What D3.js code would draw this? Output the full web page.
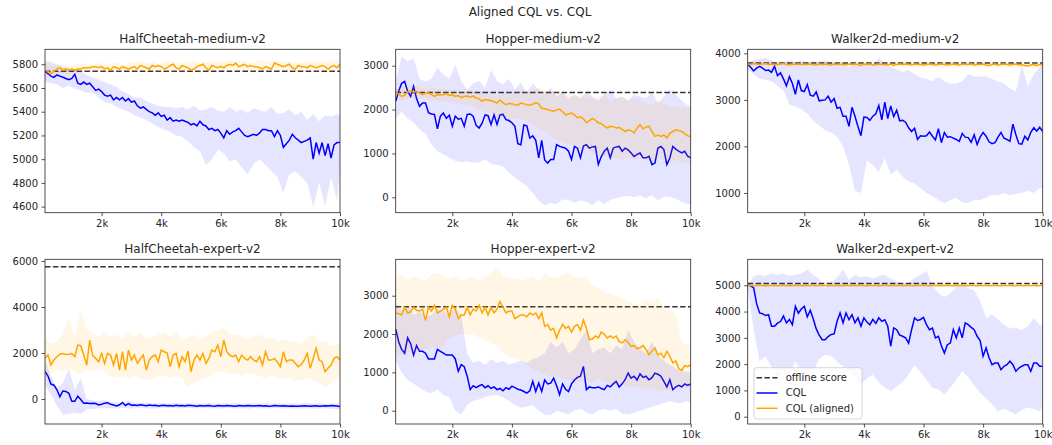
<!DOCTYPE html>
<html lang="en">
<head>
<meta charset="utf-8">
<script src="https://d3js.org/d3.v7.min.js"></script>
<style>
  body { margin: 0; background: #fff; }
  svg { font-family: "DejaVu Sans", sans-serif; }
</style>
</head>
<body>
<div id="chart"></div>
<script>
// training steps (x) for the means, and the coarser grid used for the shaded bands
var steps = d3.range(100, 10001, 100);
var bandSteps = d3.range(100, 10000, 200).concat([10000]);

var xTicks = [2000, 4000, 6000, 8000, 10000];
var xTickLabels = ["2k", "4k", "6k", "8k", "10k"];

var titles = ["HalfCheetah-medium-v2", "Hopper-medium-v2", "Walker2d-medium-v2",
              "HalfCheetah-expert-v2", "Hopper-expert-v2", "Walker2d-expert-v2"];
var offlineScores = [5740, 2390, 3790, 5750, 2710, 5070];
var yTicks = [
  [4600, 4800, 5000, 5200, 5400, 5600, 5800],
  [0, 1000, 2000, 3000],
  [1000, 2000, 3000, 4000],
  [0, 2000, 4000, 6000],
  [0, 1000, 2000, 3000],
  [0, 1000, 2000, 3000, 4000, 5000]
];
var yLimits = [[4549, 5926], [-351, 3374], [577, 4086], [-1087, 6074], [-347, 3950], [-278, 5989]];
var legendLabels = ["offline score", "CQL", "CQL (aligned)"];

// ---- HalfCheetah-medium ----
var hcMedCql = [
  5740, 5720, 5700, 5690, 5710, 5700, 5690, 5680, 5670, 5680,
  5715, 5640, 5630, 5650, 5630, 5640, 5610, 5580, 5590, 5570,
  5540, 5530, 5540, 5500, 5520, 5500, 5520, 5490, 5510, 5480,
  5490, 5450, 5430, 5440, 5420, 5400, 5390, 5370, 5390, 5360,
  5370, 5330, 5350, 5320, 5330, 5320, 5330, 5320, 5310, 5290,
  5300, 5280, 5320, 5290, 5280, 5250, 5260, 5240, 5250, 5220,
  5180, 5240, 5210, 5230, 5240, 5260, 5230, 5200, 5190, 5200,
  5210, 5200, 5220, 5250, 5250, 5240, 5240, 5190, 5240, 5200,
  5100, 5130, 5160, 5210, 5180, 5160, 5140, 5150, 5160, 5180,
  5000, 5140, 5050, 5140, 5030, 5130, 5010, 5120, 5140, 5140];
var hcMedCqlHi = [
  5830, 5820, 5800, 5780, 5770, 5760, 5740, 5710, 5690, 5670,
  5650, 5630, 5610, 5570, 5550, 5520, 5520, 5490, 5470, 5450,
  5440, 5440, 5430, 5440, 5420, 5450, 5410, 5420, 5440, 5410,
  5400, 5440, 5400, 5420, 5390, 5430, 5410, 5400, 5440, 5380,
  5390, 5420, 5370, 5400, 5330, 5380, 5320, 5370, 5360, 5380, 5370];
var hcMedCqlLo = [
  5650, 5640, 5630, 5600, 5620, 5590, 5580, 5560, 5560, 5520,
  5480, 5470, 5440, 5420, 5400, 5370, 5350, 5330, 5300, 5270,
  5250, 5230, 5200, 5190, 5150, 5100, 5070, 4950, 5000, 5080,
  5050, 4980, 5000, 4930, 4870, 4960, 5000, 4950, 4900, 4850,
  4720, 4870, 4900, 4850, 4800, 4600, 4800, 4600, 4850, 4650, 4900];
var hcMedAligned = [
  5750, 5740, 5720, 5740, 5760, 5770, 5750, 5760, 5750, 5760,
  5750, 5760, 5760, 5770, 5770, 5770, 5780, 5780, 5770, 5780,
  5760, 5770, 5750, 5780, 5770, 5760, 5780, 5770, 5760, 5770,
  5780, 5760, 5790, 5780, 5770, 5760, 5790, 5780, 5790, 5780,
  5760, 5770, 5790, 5800, 5770, 5760, 5790, 5780, 5770, 5750,
  5760, 5780, 5790, 5800, 5770, 5750, 5790, 5780, 5770, 5780,
  5770, 5790, 5800, 5790, 5810, 5780, 5790, 5800, 5780, 5790,
  5780, 5780, 5770, 5760, 5780, 5770, 5760, 5810, 5800, 5790,
  5780, 5790, 5800, 5770, 5760, 5790, 5780, 5780, 5770, 5790,
  5780, 5770, 5780, 5790, 5780, 5760, 5780, 5790, 5770, 5800];
var hcMedAlignedHi = [
  5800, 5780, 5790, 5800, 5790, 5800, 5800, 5810, 5800, 5810,
  5800, 5810, 5810, 5800, 5810, 5820, 5830, 5810, 5820, 5800,
  5820, 5830, 5820, 5810, 5820, 5830, 5810, 5820, 5820, 5830,
  5830, 5840, 5820, 5830, 5820, 5810, 5840, 5830, 5820, 5830,
  5820, 5830, 5820, 5810, 5830, 5820, 5830, 5820, 5830, 5840, 5830];
var hcMedAlignedLo = [
  5700, 5690, 5710, 5720, 5710, 5720, 5730, 5740, 5730, 5740,
  5730, 5740, 5730, 5740, 5740, 5730, 5750, 5740, 5750, 5730,
  5740, 5730, 5740, 5730, 5740, 5750, 5730, 5740, 5740, 5750,
  5750, 5760, 5740, 5740, 5750, 5730, 5740, 5750, 5740, 5750,
  5740, 5750, 5730, 5740, 5750, 5730, 5740, 5750, 5730, 5750, 5760];

// ---- Hopper-medium ----
var hopMedCql = [
  2190, 2420, 2600, 2640, 2420, 2300, 2530, 2250, 2074, 2150,
  2150, 1930, 1900, 1890, 1560, 1850, 1920, 1800, 1870, 1620,
  1850, 1780, 1800, 1620, 1890, 1900, 1850, 1640, 1580, 1690,
  1880, 1860, 1660, 1880, 1660, 1880, 1890, 1770, 1750, 1700,
  1620, 1220, 1200, 1650, 1630, 1350, 1400, 1300, 900, 1300,
  850, 780, 860, 860, 1200, 1160, 1140, 1120, 1050, 860,
  1160, 1120, 900, 1170, 1200, 1120, 1150, 1160, 750, 930,
  1050, 1120, 900, 1120, 1150, 1160, 1050, 1120, 1080, 1010,
  930, 980, 1010, 900, 900, 935, 745, 780, 1124, 1160,
  1090, 745, 897, 1160, 1100, 1050, 1011, 1049, 935, 900];
var hopMedCqlHi = [
  2650, 3210, 3100, 3170, 2700, 2640, 2700, 2950, 2800, 2700,
  3020, 2650, 2450, 2600, 2650, 2500, 2900, 2650, 2580, 2700,
  2460, 2620, 2380, 2600, 2450, 2350, 2500, 2300, 2400, 2250,
  2350, 2250, 2400, 2300, 2200, 2350, 2450, 2250, 2300, 2200,
  2350, 2300, 2250, 2400, 2150, 2300, 2450, 2350, 2200, 2100, 2100];
var hopMedCqlLo = [
  1800, 1950, 1800, 1700, 1550, 1450, 1200, 1050, 980, 900,
  830, 800, 820, 790, 800, 860, 760, 740, 700, 560,
  450, 350, 250, 100, -80, -180, -130, -150, -50, -60,
  -120, -80, -100, -180, -60, -150, -60, -20, 10, 30,
  0, 40, -20, 50, -80, 20, 10, -40, -100, -150, -150];
var hopMedAligned = [
  2415, 2350, 2300, 2330, 2400, 2420, 2400, 2410, 2380, 2340,
  2370, 2380, 2340, 2300, 2340, 2330, 2340, 2360, 2320, 2340,
  2300, 2320, 2270, 2300, 2310, 2280, 2310, 2260, 2250, 2190,
  2230, 2220, 2200, 2180, 2150, 2220, 2160, 2110, 2140, 2130,
  2110, 2100, 2150, 2130, 2110, 2100, 2120, 2160, 2130, 2030,
  2020, 2000, 1980, 1960, 1990, 2010, 1950, 1880, 1900, 1920,
  1880, 1810, 1840, 1790, 1700, 1750, 1800, 1760, 1700, 1680,
  1620, 1580, 1620, 1610, 1580, 1590, 1550, 1500, 1540, 1520,
  1470, 1580, 1656, 1560, 1600, 1620, 1500, 1390, 1420, 1390,
  1420, 1352, 1460, 1500, 1540, 1520, 1500, 1450, 1400, 1380];
var hopMedAlignedHi = [
  2500, 2480, 2520, 2540, 2500, 2480, 2500, 2470, 2480, 2460,
  2450, 2420, 2440, 2400, 2380, 2370, 2360, 2330, 2350, 2400,
  2380, 2450, 2400, 2420, 2500, 2450, 2400, 2420, 2380, 2350,
  2300, 2350, 2280, 2250, 2300, 2350, 2200, 2250, 2300, 2200,
  2250, 2200, 2150, 2100, 2200, 2150, 2050, 2100, 2050, 2050, 2000];
var hopMedAlignedLo = [
  2250, 2200, 2250, 2300, 2250, 2250, 2220, 2200, 2180, 2180,
  2150, 2120, 2100, 2050, 2000, 1950, 1900, 1850, 1850, 1800,
  1800, 1780, 1750, 1650, 1550, 1500, 1400, 1300, 1250, 1200,
  1200, 1050, 1100, 1000, 950, 950, 900, 900, 850, 900,
  850, 900, 850, 800, 900, 850, 800, 850, 800, 780, 780];

// ---- Walker2d-medium ----
var walkMedCql = [
  3760, 3700, 3620, 3680, 3720, 3680, 3630, 3640, 3590, 3720,
  3520, 3580, 3450, 3300, 3500, 3350, 3120, 3430, 3200, 3180,
  3330, 3100, 3080, 3170, 2980, 2990, 3000, 3080, 2950, 3030,
  2820, 2840, 2650, 2650, 2430, 2840, 2650, 2430, 2230, 2630,
  2620, 2560, 2650, 2700, 2880, 2570, 2950, 2600, 2870, 2640,
  2780, 2550, 2560, 2520, 2400, 2320, 2390, 2150, 2230, 2220,
  2230, 2310, 2220, 2140, 2380, 2080, 2300, 2200, 2210, 2180,
  2150, 2110, 2280, 2200, 2190, 2090, 2250, 2040, 2200, 2300,
  2220, 2100, 2060, 2080, 2200, 2300, 2180, 2150, 2110, 2480,
  2250, 2060, 2050, 2220, 2140, 2300, 2400, 2330, 2410, 2320];
var walkMedCqlHi = [
  3800, 3850, 3880, 3900, 3850, 3800, 3820, 3850, 3800, 3850,
  3800, 3830, 3820, 3850, 3800, 3780, 3750, 3700, 3780, 3750,
  3780, 3750, 3900, 3780, 3700, 3650, 3600, 3650, 3550, 3480,
  3450, 3400, 3500, 3400, 3350, 3350, 3400, 3550, 3500, 3500,
  3500, 3450, 3400, 3350, 3250, 3180, 3750, 3300, 3550, 3700, 3750];
var walkMedCqlLo = [
  3650, 3550, 3450, 3430, 3400, 3300, 3200, 2900, 2850, 2800,
  2700, 2550, 2450, 2350, 2300, 2200, 2000, 1600, 1050, 1000,
  1700, 1600, 1450, 1750, 1400, 1500, 1350, 1250, 1200, 1100,
  1000, 930, 850, 780, 850, 900, 800, 780, 850, 850,
  900, 960, 950, 1000, 950, 980, 1000, 1050, 1000, 1100, 1100];
var walkMedAligned = [
  3770, 3760, 3780, 3770, 3760, 3770, 3780, 3760, 3770, 3760,
  3760, 3770, 3780, 3760, 3750, 3770, 3760, 3770, 3760, 3770,
  3760, 3770, 3760, 3750, 3770, 3760, 3770, 3760, 3750, 3770,
  3760, 3770, 3760, 3750, 3770, 3760, 3770, 3760, 3740, 3770,
  3760, 3770, 3750, 3760, 3770, 3760, 3760, 3750, 3770, 3740,
  3760, 3770, 3760, 3770, 3760, 3750, 3770, 3760, 3760, 3750,
  3760, 3770, 3760, 3750, 3760, 3770, 3760, 3750, 3760, 3770,
  3760, 3750, 3770, 3760, 3760, 3770, 3750, 3760, 3760, 3770,
  3750, 3740, 3760, 3770, 3750, 3760, 3770, 3760, 3750, 3760,
  3770, 3750, 3760, 3740, 3730, 3750, 3760, 3740, 3760, 3750];
var walkMedAlignedHi = [
  3810, 3800, 3820, 3810, 3800, 3810, 3800, 3810, 3820, 3800,
  3810, 3800, 3810, 3820, 3800, 3810, 3800, 3790, 3810, 3800,
  3810, 3800, 3810, 3800, 3790, 3810, 3800, 3810, 3800, 3790,
  3800, 3810, 3800, 3790, 3800, 3810, 3800, 3790, 3800, 3810,
  3790, 3800, 3810, 3800, 3790, 3780, 3800, 3790, 3800, 3790, 3790];
var walkMedAlignedLo = [
  3720, 3710, 3730, 3720, 3710, 3720, 3730, 3710, 3720, 3730,
  3710, 3720, 3730, 3710, 3720, 3730, 3710, 3700, 3720, 3710,
  3720, 3710, 3720, 3730, 3700, 3720, 3710, 3720, 3710, 3700,
  3710, 3720, 3710, 3700, 3720, 3710, 3700, 3720, 3710, 3720,
  3700, 3710, 3700, 3720, 3690, 3700, 3680, 3700, 3690, 3700, 3700];

// ---- HalfCheetah-expert ----
var hcExpCql = [
  1200, 1000, 650, 600, 400, 100, 350, 330, 250, -100,
  -100, 120, -20, -180, -170, -200, -180, -200, -260, -230,
  -180, -160, -230, -260, -300, -250, -150, -280, -200, -270,
  -260, -280, -250, -270, -290, -260, -280, -270, -300, -280,
  -270, -290, -280, -300, -270, -290, -280, -300, -270, -280,
  -290, -310, -280, -300, -290, -280, -300, -310, -280, -290,
  -300, -280, -290, -300, -310, -280, -290, -300, -280, -290,
  -300, -290, -280, -300, -290, -310, -300, -280, -290, -300,
  -290, -300, -310, -300, -320, -310, -300, -290, -300, -310,
  -300, -290, -310, -300, -290, -300, -280, -290, -300, -330];
var hcExpCqlHi = [
  1700, 1000, 500, 700, 1300, 400, 900, 0, -50, -80,
  -50, -120, -150, -200, -50, -180, -150, -160, -200, -180,
  -180, -200, -170, -190, -200, -180, -200, -190, -180, -200,
  -190, -200, -180, -200, -190, -180, -200, -190, -200, -180,
  -200, -190, -210, -200, -190, -200, -190, -210, -200, -190, -200];
var hcExpCqlLo = [
  600, 200, -300, -700, -650, -600, -650, -450, -450, -400,
  -400, -400, -420, -380, -420, -400, -380, -400, -420, -400,
  -380, -400, -390, -410, -380, -400, -410, -390, -400, -410,
  -400, -390, -410, -400, -420, -390, -400, -410, -400, -390,
  -410, -400, -420, -410, -400, -420, -410, -400, -420, -450, -450];
var hcExpAligned = [
  1770, 1910, 1480, 1700, 1840, 1950, 1980, 1940, 1950, 1980,
  1840, 2346, 2317, 1912, 1476, 2563, 1900, 1766, 1621, 1984,
  1549, 1984, 1912, 1476, 1984, 1259, 2056, 1259, 2129, 1694,
  1912, 1549, 1750, 1912, 1259, 1694, 1850, 1912, 1621, 2129,
  2056, 2000, 1404, 1912, 1984, 1404, 1839, 1621, 2085, 1187,
  1700, 1912, 1694, 1984, 1549, 1766, 2129, 2056, 2346, 1839,
  2563, 2056, 1900, 1839, 1912, 1621, 1912, 1766, 1694, 1839,
  1700, 1621, 1839, 1476, 2056, 1694, 1694, 1766, 1600, 1404,
  2056, 1621, 1700, 1694, 1549, 1404, 1500, 1694, 1984, 1331,
  1766, 2201, 1694, 1621, 1187, 1350, 1476, 1766, 1839, 1694];
var hcExpAlignedHi = [
  2640, 2400, 2500, 2800, 3500, 2700, 3870, 3000, 2900, 2700,
  2900, 2700, 2800, 2600, 2900, 2700, 2900, 2600, 2700, 2800,
  2900, 2700, 2900, 2600, 2700, 2800, 2600, 2700, 2900, 3000,
  3100, 2800, 2800, 2700, 2600, 2700, 2800, 2600, 2700, 2500,
  2600, 2500, 2500, 2400, 2700, 2800, 2500, 2500, 2300, 2400, 2400];
var hcExpAlignedLo = [
  900, 1100, 1300, 1200, 1300, 1200, 1100, 1300, 1200, 1300,
  1200, 1000, 900, 1000, 900, 1000, 900, 800, 900, 1000,
  1000, 900, 1000, 900, 500, 700, 800, 900, 1000, 1200,
  1200, 1100, 1100, 1000, 1100, 1100, 1000, 900, 1000, 900,
  900, 900, 800, 800, 900, 800, 700, 500, 700, 900, 1000];

// ---- Hopper-expert ----
var hopExpCql = [
  2130, 1800, 1600, 1500, 1900, 1750, 1450, 1700, 1550, 1550,
  1500, 1350, 1350, 1350, 1600, 1550, 1500, 1450, 1450, 1450,
  1350, 1030, 1200, 1150, 900, 550, 650, 600, 650, 680,
  600, 650, 580, 620, 550, 580, 520, 600, 560, 640,
  600, 560, 540, 500, 460, 520, 765, 500, 720, 500,
  800, 700, 720, 850, 650, 420, 700, 560, 500, 700,
  800, 870, 900, 1157, 550, 620, 600, 600, 620, 580,
  550, 660, 620, 700, 765, 620, 700, 809, 983, 850,
  900, 800, 960, 870, 900, 809, 860, 980, 950, 900,
  765, 620, 809, 548, 620, 660, 620, 700, 660, 700];
var hopExpCqlHi = [
  2800, 2600, 2750, 2500, 2600, 2450, 2500, 2650, 2600, 2500,
  2700, 2500, 1500, 1250, 1300, 1200, 1350, 1250, 1300, 1200,
  1250, 1300, 1250, 1350, 1400, 1500, 1800, 1650, 1800, 1500,
  1600, 1850, 2100, 1500, 1600, 1650, 1500, 1700, 1600, 2100,
  1800, 1600, 1500, 1800, 1450, 1300, 1200, 1100, 1050, 1000, 1000];
var hopExpCqlLo = [
  1300, 1000, 800, 700, 600, 500, 450, 550, 400, 350,
  0, -100, 150, 250, 300, 350, 400, 400, 350, 250,
  150, 80, 100, 150, 0, -100, -120, 0, -50, -100,
  0, 50, -50, -100, 0, 50, 0, 50, -80, -100,
  -50, 0, 50, 100, 150, 200, 250, 200, 200, 250, 200];
var hopExpAligned = [
  2550, 2530, 2500, 2700, 2550, 2580, 2700, 2620, 2600, 2650,
  2350, 2700, 2600, 2750, 2550, 2600, 2650, 2700, 2450, 2750,
  2650, 2400, 2500, 2500, 2700, 2500, 2650, 2600, 2750, 2550,
  2700, 2500, 2700, 2550, 2650, 2850, 2700, 2550, 2600, 2600,
  2400, 2450, 2500, 2500, 2450, 2550, 2500, 2550, 2400, 2550,
  2200, 2250, 2100, 2150, 1900, 2100, 2250, 2150, 2200, 2050,
  2200, 2250, 2100, 2370, 2150, 1850, 1870, 1950, 1900, 2050,
  2000, 1900, 1950, 1900, 1950, 1800, 1770, 1850, 1780, 1680,
  1700, 1620, 1640, 1700, 1600, 1460, 1550, 1640, 1450, 1500,
  1380, 1550, 1420, 1250, 1300, 1100, 1050, 1180, 1150, 1200];
var hopExpAlignedHi = [
  3500, 3550, 3400, 3500, 3450, 3400, 3550, 3600, 3500, 3450,
  3500, 3400, 3450, 3500, 3400, 3500, 3600, 3750, 3550, 3450,
  3450, 3400, 3450, 3500, 3350, 3600, 3500, 3450, 3550, 3600,
  3500, 3450, 3500, 3250, 3200, 3100, 3050, 3000, 2950, 2850,
  2800, 2750, 2900, 2850, 2950, 2700, 2650, 2500, 1800, 1700, 1700];
var hopExpAlignedLo = [
  1500, 1460, 1550, 1500, 1550, 1600, 1650, 1630, 1700, 1900,
  1950, 2000, 1980, 2000, 1900, 1850, 1750, 1700, 1500, 1400,
  1350, 1300, 1200, 1100, 1000, 950, 900, 900, 850, 800,
  800, 750, 800, 700, 850, 750, 700, 650, 700, 600,
  650, 600, 550, 600, 500, 550, 500, 600, 650, 600, 600];

// ---- Walker2d-expert ----
var walkExpCql = [
  5000, 4980, 4900, 4300, 3950, 3920, 3850, 3880, 3440, 3440,
  3560, 3620, 3830, 3570, 3700, 3500, 4200, 3940, 4100, 4200,
  3800, 4050, 3720, 3340, 3100, 2930, 2930, 3050, 3130, 3150,
  3630, 3950, 3570, 3950, 3690, 3880, 3570, 3760, 3440, 3760,
  3600, 3500, 3700, 3550, 3760, 3630, 3690, 3440, 2680, 3380,
  3310, 3100, 3060, 3000, 2800, 3310, 3760, 3660, 3700, 3780,
  3500, 3310, 3370, 3000, 3060, 2700, 2420, 2740, 2800, 3310,
  3000, 3370, 3000, 3570, 3500, 3400, 3310, 3060, 2900, 2300,
  2620, 2240, 1980, 2040, 2040, 1790, 1920, 1980, 2110, 1980,
  1730, 1850, 1920, 1980, 1980, 1730, 2040, 2040, 1920, 1920];
var walkExpCqlHi = [
  5000, 5350, 5400, 5350, 5450, 5400, 5450, 5350, 5400, 5450,
  5600, 5400, 5250, 4900, 5100, 5300, 5600, 5200, 5400, 5300,
  5350, 5250, 5350, 5400, 5250, 5150, 5050, 5100, 5300, 5400,
  5550, 5000, 4700, 4550, 4700, 4950, 5050, 4900, 4800, 4400,
  3760, 3900, 3700, 3500, 3350, 3400, 3300, 3450, 3750, 3500, 3500];
var walkExpCqlLo = [
  4900, 3300, 2100, 2300, 1900, 1470, 1700, 1600, 2100, 1700,
  1350, 1700, 2200, 2360, 2300, 2100, 1900, 1700, 1500, 1220,
  1450, 1600, 1300, 1100, 970, 1150, 1300, 1600, 1980, 1700,
  1400, 1100, 1030, 840, 1100, 1400, 1730, 1500, 1200, 900,
  700, 460, 200, 300, 200, 80, 250, 350, 300, 200, 400];
var walkExpAligned = [
  4990, 4995, 4985, 4990, 4995, 4990, 4985, 4990, 4995, 4990,
  4985, 4990, 4995, 4990, 4985, 4990, 4995, 4990, 4990, 4985,
  4990, 4995, 4990, 4985, 4990, 4995, 4990, 4985, 4990, 4995,
  4990, 4985, 4990, 4995, 4990, 4990, 4985, 4990, 4995, 4990,
  4985, 4990, 4995, 4990, 4985, 4990, 4995, 4990, 4985, 4990,
  4995, 4990, 4985, 4990, 4995, 4990, 4985, 4990, 4995, 4990,
  4990, 4985, 4990, 4995, 4990, 4985, 4990, 4995, 4990, 4985,
  4990, 4995, 4990, 4985, 4990, 4995, 4990, 4985, 4990, 4995,
  4990, 4985, 4990, 4995, 4990, 4985, 4990, 4995, 4990, 4985,
  4990, 4995, 4990, 4985, 4990, 4995, 4990, 4985, 4990, 4990];
var walkExpAlignedHi = [
  5030, 5020, 5030, 5025, 5020, 5030, 5020, 5025, 5030, 5020,
  5025, 5030, 5020, 5030, 5025, 5020, 5030, 5020, 5025, 5030,
  5020, 5030, 5025, 5020, 5030, 5020, 5025, 5030, 5020, 5030,
  5025, 5020, 5030, 5020, 5025, 5030, 5020, 5030, 5025, 5020,
  5030, 5020, 5025, 5030, 5020, 5030, 5025, 5020, 5030, 5020, 5025];
var walkExpAlignedLo = [
  4950, 4960, 4955, 4950, 4960, 4950, 4955, 4960, 4950, 4955,
  4960, 4950, 4955, 4960, 4950, 4960, 4955, 4950, 4960, 4950,
  4955, 4960, 4950, 4955, 4960, 4950, 4960, 4955, 4950, 4960,
  4950, 4955, 4960, 4950, 4955, 4960, 4950, 4960, 4955, 4950,
  4960, 4950, 4955, 4960, 4950, 4955, 4960, 4950, 4960, 4955, 4950];

// table of the six subplots, built from the arrays above
var panels = [
  {cql: hcMedCql, cqlLo: hcMedCqlLo, cqlHi: hcMedCqlHi, al: hcMedAligned, alLo: hcMedAlignedLo, alHi: hcMedAlignedHi},
  {cql: hopMedCql, cqlLo: hopMedCqlLo, cqlHi: hopMedCqlHi, al: hopMedAligned, alLo: hopMedAlignedLo, alHi: hopMedAlignedHi},
  {cql: walkMedCql, cqlLo: walkMedCqlLo, cqlHi: walkMedCqlHi, al: walkMedAligned, alLo: walkMedAlignedLo, alHi: walkMedAlignedHi},
  {cql: hcExpCql, cqlLo: hcExpCqlLo, cqlHi: hcExpCqlHi, al: hcExpAligned, alLo: hcExpAlignedLo, alHi: hcExpAlignedHi},
  {cql: hopExpCql, cqlLo: hopExpCqlLo, cqlHi: hopExpCqlHi, al: hopExpAligned, alLo: hopExpAlignedLo, alHi: hopExpAlignedHi},
  {cql: walkExpCql, cqlLo: walkExpCqlLo, cqlHi: walkExpCqlHi, al: walkExpAligned, alLo: walkExpAlignedLo, alHi: walkExpAlignedHi}
];

var blue = "#0000ff", orange = "#ffa500", ink = "#262626";
var width = 1052, height = 445;
var colLeft = [45, 395.7, 747.7], axW = 295;
var rowTop = [49.3, 259.3], rowH = [163.4, 164.7];

var svg = d3.select("#chart").append("svg")
  .attr("width", width).attr("height", height);

svg.append("text")
  .attr("x", 530).attr("y", 16)
  .attr("text-anchor", "middle")
  .attr("font-size", 12).attr("fill", ink)
  .text("Aligned CQL vs. CQL");

panels.forEach(function(p, k) {
  var col = k % 3, row = Math.floor(k / 3);
  var h = rowH[row];
  var x = d3.scaleLinear().domain([100, 10000]).range([0, axW]);
  var y = d3.scaleLinear().domain(yLimits[k]).range([h, 0]);

  var g = svg.append("g")
    .attr("transform", "translate(" + colLeft[col] + "," + rowTop[row] + ")");

  g.append("clipPath").attr("id", "clip" + k)
    .append("rect").attr("width", axW).attr("height", h);
  var plot = g.append("g").attr("clip-path", "url(#clip" + k + ")");

  var band = function(lo, hi) {
    return d3.area()
      .x(function(d) { return x(bandSteps[d]); })
      .y0(function(d) { return y(lo[d]); })
      .y1(function(d) { return y(hi[d]); })(d3.range(bandSteps.length));
  };
  var line = d3.line()
    .x(function(d, i) { return x(steps[i]); })
    .y(function(d) { return y(d); });

  // offline score
  plot.append("line")
    .attr("x1", 0).attr("x2", axW)
    .attr("y1", y(offlineScores[k])).attr("y2", y(offlineScores[k]))
    .attr("stroke", "#000").attr("stroke-opacity", 0.8)
    .attr("stroke-width", 1.5).attr("stroke-dasharray", "5.5,2.4");

  // CQL
  plot.append("path").attr("d", band(p.cqlLo, p.cqlHi))
    .attr("fill", blue).attr("fill-opacity", 0.1);
  plot.append("path").datum(p.cql).attr("d", line)
    .attr("fill", "none").attr("stroke", blue).attr("stroke-width", 1.5);

  // CQL (aligned)
  plot.append("path").attr("d", band(p.alLo, p.alHi))
    .attr("fill", orange).attr("fill-opacity", 0.1);
  plot.append("path").datum(p.al).attr("d", line)
    .attr("fill", "none").attr("stroke", orange).attr("stroke-width", 1.5);

  // axes
  var xAxis = g.append("g").attr("transform", "translate(0," + h + ")")
    .call(d3.axisBottom(x).tickValues(xTicks)
      .tickFormat(function(d, i) { return xTickLabels[i]; })
      .tickSize(3.5).tickPadding(3.5));
  var yAxis = g.append("g")
    .call(d3.axisLeft(y).tickValues(yTicks[k]).tickFormat(d3.format("d"))
      .tickSize(3.5).tickPadding(3.5));
  [xAxis, yAxis].forEach(function(a) {
    a.select(".domain").remove();
    a.selectAll("line").attr("stroke", ink).attr("stroke-width", 0.8);
    a.selectAll("text").attr("fill", ink)
      .attr("font-size", 10).attr("font-family", "DejaVu Sans, sans-serif");
  });

  g.append("rect").attr("width", axW).attr("height", h)
    .attr("fill", "none").attr("stroke", ink).attr("stroke-width", 0.8);

  g.append("text")
    .attr("x", axW / 2).attr("y", -6.5)
    .attr("text-anchor", "middle")
    .attr("font-size", 12).attr("fill", ink)
    .text(titles[k]);

  // legend sits in the last panel
  if (k === 5) {
    var lg = g.append("g").attr("transform", "translate(6.3," + (h - 56.3) + ")");
    lg.append("rect")
      .attr("width", 108).attr("height", 51.3).attr("rx", 2.5)
      .attr("fill", "#fff").attr("fill-opacity", 0.8)
      .attr("stroke", "#cccccc").attr("stroke-width", 0.8);
    var styles = [
      {color: "#000", dash: "5.5,2.4", op: 0.8},
      {color: blue, dash: null, op: 1},
      {color: orange, dash: null, op: 1}
    ];
    legendLabels.forEach(function(label, i) {
      var cy = 10 + i * 15.3;
      lg.append("line")
        .attr("x1", 2.5).attr("x2", 23.5).attr("y1", cy).attr("y2", cy)
        .attr("stroke", styles[i].color).attr("stroke-opacity", styles[i].op)
        .attr("stroke-width", 1.5).attr("stroke-dasharray", styles[i].dash);
      lg.append("text")
        .attr("x", 31.7).attr("y", cy).attr("dy", "0.35em")
        .attr("font-size", 10).attr("fill", ink)
        .text(label);
    });
  }
});
</script>
</body>
</html>
